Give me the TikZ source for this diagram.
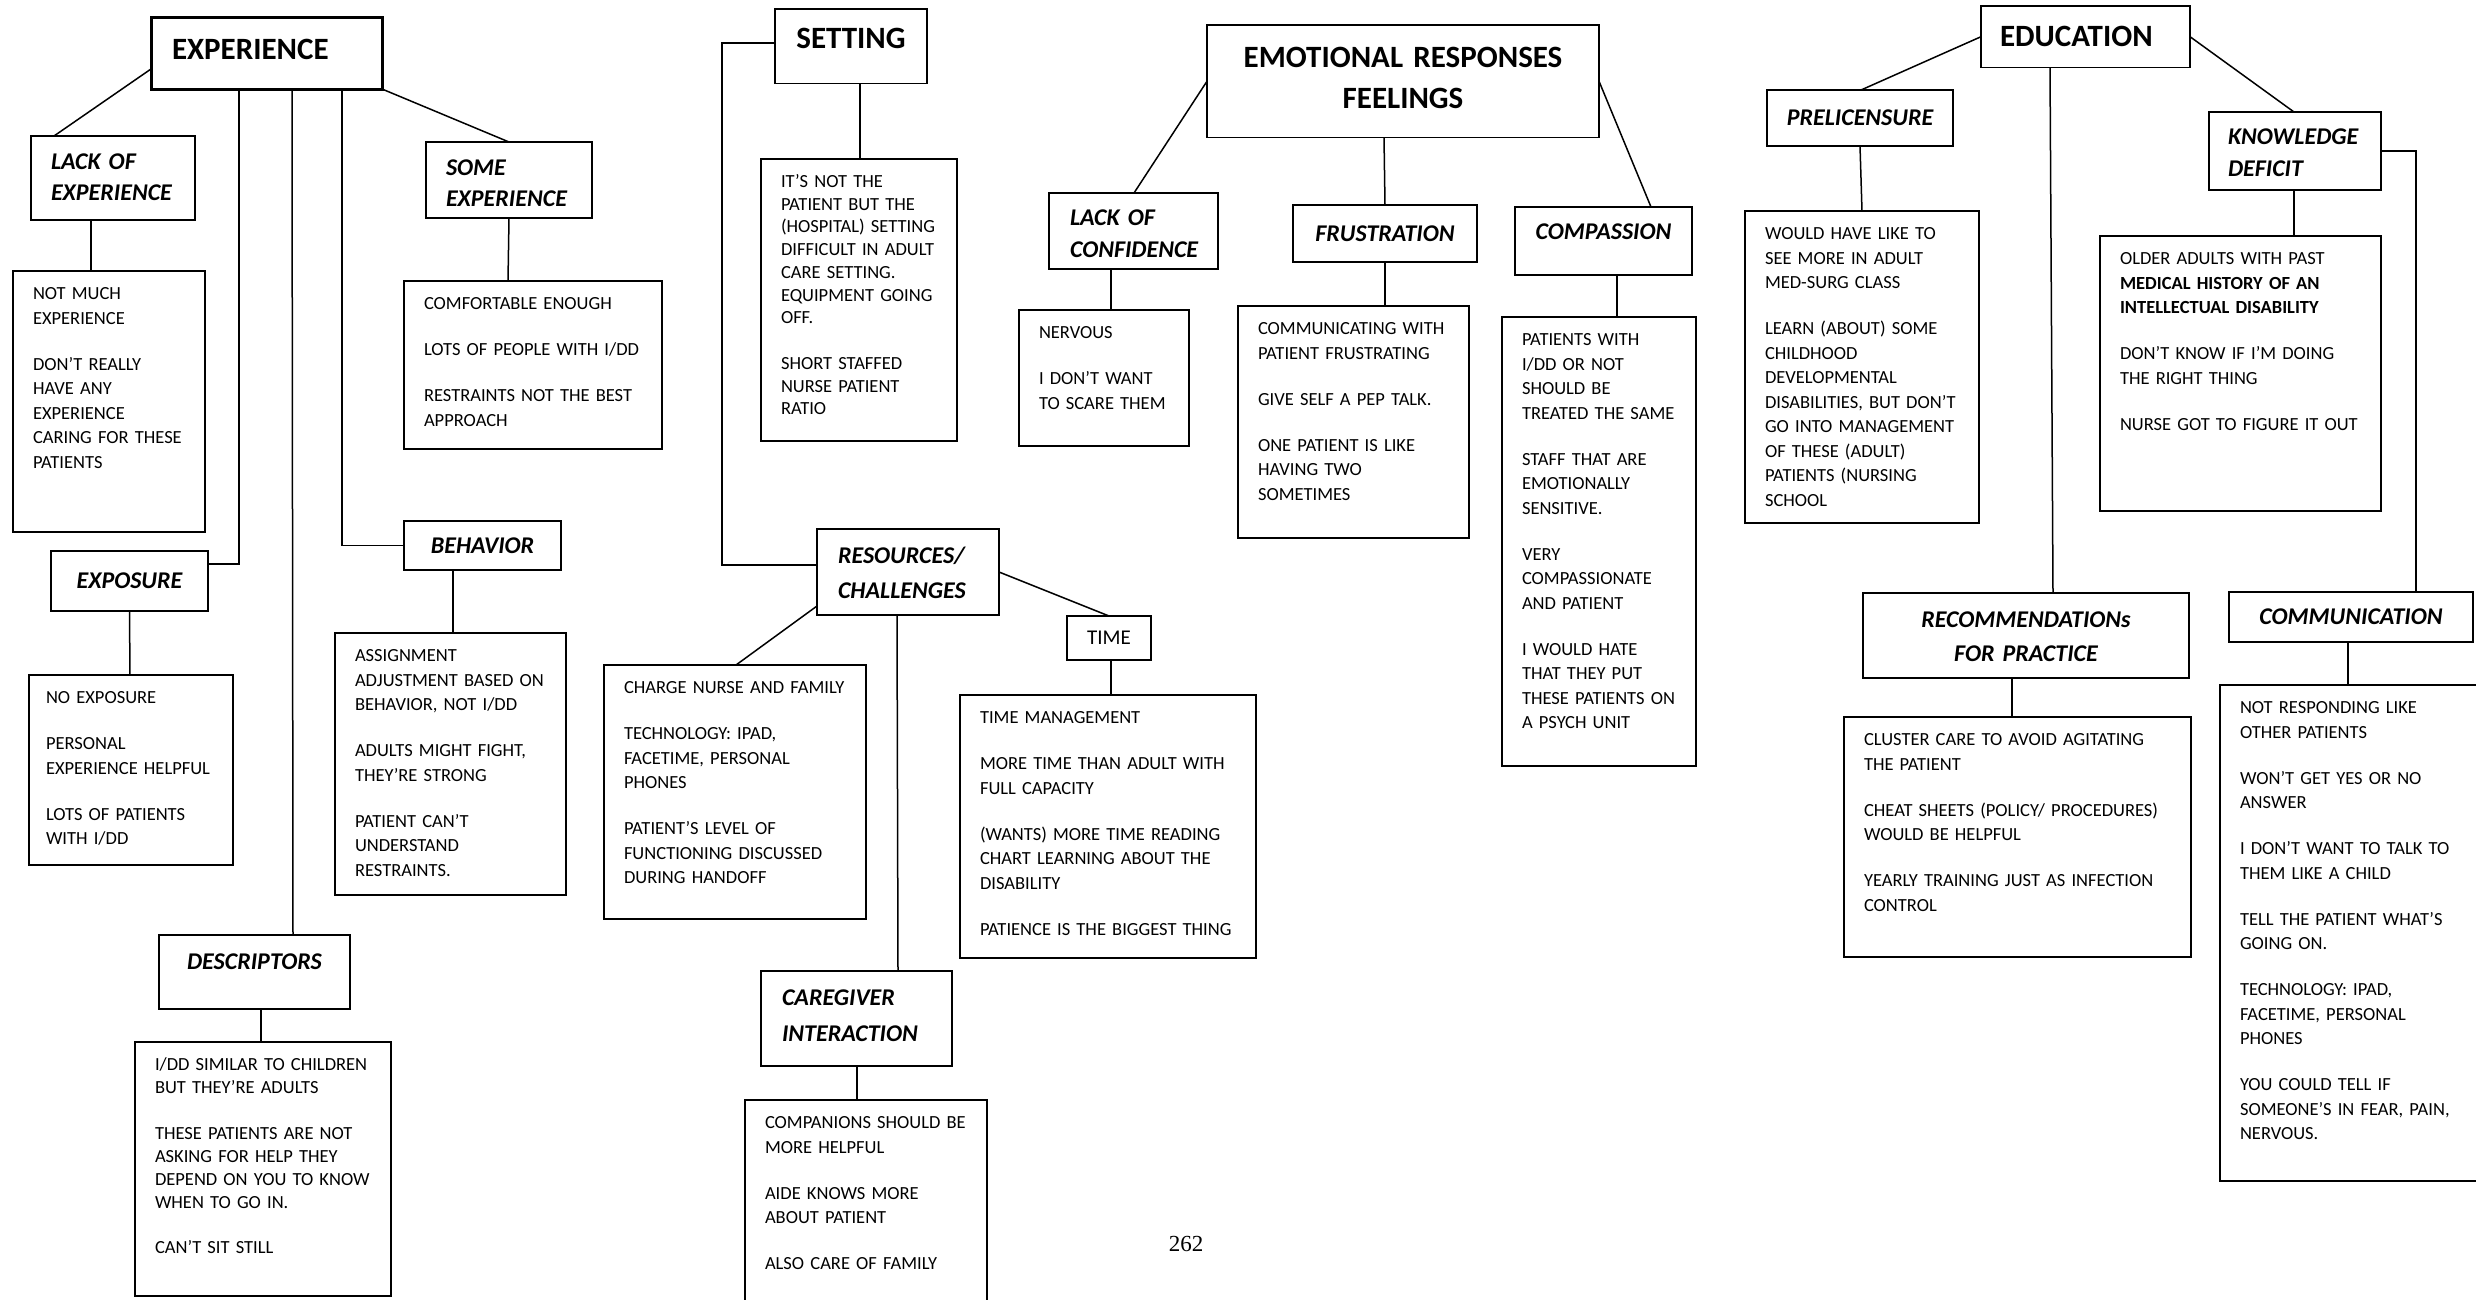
\documentclass[tikz,border=0pt]{standalone}
\usepackage{fontspec}
\setmainfont{Carlito}
\newfontfamily\pagefont{Liberation Serif}
\usetikzlibrary{positioning}
\tikzset{
  note/.style={draw, line width=1.8pt, anchor=north west, outer sep=0pt, align=left,
    inner xsep=20pt, inner ysep=16.5pt, text height=12pt,
    font=\fontsize{18.5}{24.5}\selectfont},
  theme/.style={draw, line width=1.8pt, anchor=north west, outer sep=0pt,
    text height=20pt, font=\bfseries\fontsize{31}{41}\selectfont},
  topic/.style={draw, line width=1.8pt, anchor=north west, outer sep=0pt,
    text height=15.2pt, font=\bfseries\itshape\fontsize{24}{31}\selectfont},
  link/.style={line width=1.5pt},
}

\begin{document}
\begin{tikzpicture}[x=1pt, y=-1pt]
  \path[fill=white, use as bounding box] (0,0) rectangle (2476,1299);

  % experience
  \node[theme, line width=3pt, text width=189pt, inner xsep=21pt, inner ysep=22pt, text depth=8pt, align=left] (experience) at (151,17) {EXPERIENCE};
  \node[topic, text width=124pt, inner xsep=20pt, inner ysep=18.4pt, text depth=32.2pt, align=left] (lackexp) at (31,136) {LACK OF\\EXPERIENCE};
  \node[topic, text width=126pt, inner xsep=20pt, inner ysep=18pt, text depth=25pt, align=left] (someexp) at (426,142) {SOME\\EXPERIENCE};
  \node[topic, minimum width=157pt, minimum height=60pt, text depth=0pt] (exposure) at (51,551) {EXPOSURE};
  \node[topic, minimum width=157pt, minimum height=49pt, text depth=0pt] (behavior) at (404,521) {BEHAVIOR};
  \node[topic, text width=151pt, inner xsep=20pt, inner ysep=19.4pt, text depth=20pt, align=center] (descriptors) at (159,935) {DESCRIPTORS};
  \node[note, text width=152pt, text depth=216pt] (notmuch) at (13,271) {NOT MUCH\\EXPERIENCE\\[21.5pt]DON’T REALLY\\HAVE ANY\\EXPERIENCE\\CARING FOR THESE\\PATIENTS};
  \node[note, text width=218pt, text depth=123pt] (comfortable) at (404,281) {COMFORTABLE ENOUGH\\[21.5pt]LOTS OF PEOPLE WITH I/DD\\[21.5pt]RESTRAINTS NOT THE BEST\\APPROACH};
  \node[note, text width=170pt, inner xsep=17pt, text depth=145pt] (noexposure) at (29,675) {NO EXPOSURE\\[21.5pt]PERSONAL\\EXPERIENCE HELPFUL\\[21.5pt]LOTS OF PATIENTS\\WITH I/DD};
  \node[note, text width=191pt, text depth=217pt] (assignment) at (335,633) {ASSIGNMENT\\ADJUSTMENT BASED ON\\BEHAVIOR, NOT I/DD\\[21.5pt]ADULTS MIGHT FIGHT,\\THEY’RE STRONG\\[21.5pt]PATIENT CAN’T\\UNDERSTAND\\RESTRAINTS.};
  \node[note, text width=216pt, text depth=209pt, font=\fontsize{18.5}{23}\selectfont] (similar) at (135,1042) {I/DD SIMILAR TO CHILDREN\\BUT THEY’RE ADULTS\\[22.5pt]THESE PATIENTS ARE NOT\\ASKING FOR HELP THEY\\DEPEND ON YOU TO KNOW\\WHEN TO GO IN.\\[22.5pt]CAN’T SIT STILL};

  % setting
  \node[theme, text width=112pt, inner xsep=20pt, inner ysep=19.2pt, text depth=16pt, align=center] (setting) at (775,9) {SETTING};
  \node[note, text width=156pt, text depth=237pt, font=\fontsize{18.5}{22.7}\selectfont] (hospital) at (761,159) {IT’S NOT THE\\PATIENT BUT THE\\(HOSPITAL) SETTING\\DIFFICULT IN ADULT\\CARE SETTING.\\EQUIPMENT GOING\\OFF.\\[23pt]SHORT STAFFED\\NURSE PATIENT\\RATIO};
  \node[topic, text width=140pt, inner xsep=21pt, inner ysep=19.4pt, text depth=32pt, align=left] (resources) at (817,529) {RESOURCES/\\[4pt]CHALLENGES};
  \node[note, text width=222pt, text depth=209pt] (chargenurse) at (604,665) {CHARGE NURSE AND FAMILY\\[21.5pt]TECHNOLOGY: IPAD,\\FACETIME, PERSONAL\\PHONES\\[21.5pt]PATIENT’S LEVEL OF\\FUNCTIONING DISCUSSED\\DURING HANDOFF};
  \node[topic, text width=149pt, inner xsep=21pt, inner ysep=19.4pt, text depth=41pt, align=left] (caregiver) at (761,971) {CAREGIVER\\[5pt]INTERACTION};
  \node[note, text width=202pt, text depth=175pt] (companions) at (745,1100) {COMPANIONS SHOULD BE\\MORE HELPFUL\\[21.5pt]AIDE KNOWS MORE\\ABOUT PATIENT\\[21.5pt]ALSO CARE OF FAMILY};
  \node[draw, line width=1.8pt, anchor=north west, outer sep=0pt, minimum width=84pt, minimum height=44pt, text height=13.3pt, text depth=0pt, font=\fontsize{21}{25}\selectfont] (time) at (1067,616) {TIME};
  \node[note, text width=256pt, text depth=218pt] (timemgmt) at (960,695) {TIME MANAGEMENT\\[21.5pt]MORE TIME THAN ADULT WITH\\FULL CAPACITY\\[21.5pt](WANTS) MORE TIME READING\\CHART LEARNING ABOUT THE\\DISABILITY\\[21.5pt]PATIENCE IS THE BIGGEST THING};

  % emotional responses
  \node[theme, text width=352pt, inner xsep=20pt, inner ysep=22.2pt, text depth=48pt, align=center] (emotional) at (1207,25) {EMOTIONAL RESPONSES\\FEELINGS};
  \node[topic, text width=127pt, inner xsep=21pt, inner ysep=17.4pt, text depth=26pt, align=left] (lackconf) at (1049,193) {LACK OF\\[1pt]CONFIDENCE};
  \node[topic, minimum width=184pt, minimum height=57pt, text depth=0pt] (frustration) at (1293,205) {FRUSTRATION};
  \node[topic, text width=137pt, inner xsep=20pt, inner ysep=17.4pt, text depth=18pt, align=center] (compassion) at (1515,207) {COMPASSION};
  \node[note, text width=130pt, text depth=91pt] (nervous) at (1019,310) {NERVOUS\\[21.5pt]I DON’T WANT\\TO SCARE THEM};
  \node[note, text width=191pt, text depth=187pt] (peptalk) at (1238,306) {COMMUNICATING WITH\\PATIENT FRUSTRATING\\[21.5pt]GIVE SELF A PEP TALK.\\[21.5pt]ONE PATIENT IS LIKE\\HAVING TWO\\SOMETIMES};
  \node[note, text width=154pt, text depth=404pt] (treated) at (1502,317) {PATIENTS WITH\\I/DD OR NOT\\SHOULD BE\\TREATED THE SAME\\[21.5pt]STAFF THAT ARE\\EMOTIONALLY\\SENSITIVE.\\[21.5pt]VERY\\COMPASSIONATE\\AND PATIENT\\[21.5pt]I WOULD HATE\\THAT THEY PUT\\THESE PATIENTS ON\\A PSYCH UNIT};

  % education
  \node[theme, text width=171pt, inner xsep=19pt, inner ysep=20pt, text depth=1.4pt, align=left] (education) at (1981,6) {EDUCATION};
  \node[topic, minimum width=186pt, minimum height=56pt, text depth=0pt] (prelicensure) at (1767,90) {PRELICENSURE};
  \node[topic, text width=134pt, inner xsep=19pt, inner ysep=17.4pt, text depth=28pt, align=left] (knowledge) at (2209,112) {KNOWLEDGE\\[1pt]DEFICIT};
  \node[topic, text width=286pt, inner xsep=20pt, inner ysep=19.4pt, text depth=31pt, align=center] (recommend) at (1863,593) {RECOMMENDATIONs\\[3pt]FOR PRACTICE};
  \node[topic, minimum width=244pt, minimum height=50pt, text depth=0pt] (communication) at (2229,592) {COMMUNICATION};
  \node[note, text width=194pt, text depth=267pt] (medsurg) at (1745,211) {WOULD HAVE LIKE TO\\SEE MORE IN ADULT\\MED-SURG CLASS\\[21.5pt]LEARN (ABOUT) SOME\\CHILDHOOD\\DEVELOPMENTAL\\DISABILITIES, BUT DON’T\\GO INTO MANAGEMENT\\OF THESE (ADULT)\\PATIENTS (NURSING\\SCHOOL};
  \node[note, text width=241pt, text depth=230pt] (olderadults) at (2100,236) {OLDER ADULTS WITH PAST\\\textbf{MEDICAL HISTORY OF AN}\\\textbf{INTELLECTUAL DISABILITY}\\[21.5pt]DON’T KNOW IF I’M DOING\\THE RIGHT THING\\[21.5pt]NURSE GOT TO FIGURE IT OUT};
  \node[note, text width=307pt, text depth=195pt] (cluster) at (1844,717) {CLUSTER CARE TO AVOID AGITATING\\THE PATIENT\\[21.5pt]CHEAT SHEETS (POLICY/ PROCEDURES)\\WOULD BE HELPFUL\\[21.5pt]YEARLY TRAINING JUST AS INFECTION\\CONTROL};
  \node[note, text width=222pt, text depth=451pt] (responding) at (2220,685) {NOT RESPONDING LIKE\\OTHER PATIENTS\\[21.5pt]WON’T GET YES OR NO\\ANSWER\\[21.5pt]I DON’T WANT TO TALK TO\\THEM LIKE A CHILD\\[21.5pt]TELL THE PATIENT WHAT’S\\GOING ON.\\[21.5pt]TECHNOLOGY: IPAD,\\FACETIME, PERSONAL\\PHONES\\[21.5pt]YOU COULD TELL IF\\SOMEONE’S IN FEAR, PAIN,\\NERVOUS.};

  \node[font=\pagefont\fontsize{23}{23}\selectfont] (pagenum) at (1186,1244) {262};

  % connectors
  \draw[link] ([yshift=-16pt]experience.west) -- ([xshift=23pt]lackexp.north west);
  \draw[link] (experience.south east) -- (someexp.north);
  \draw[link] ([xshift=60pt]lackexp.south west) -- ([xshift=78pt]notmuch.north west);
  \draw[link] (someexp.south) -- ([xshift=104pt]comfortable.north west);
  \draw[link] ([xshift=88pt]experience.south west) |- ([yshift=17pt]exposure.east);
  \draw[link] ([xshift=141pt]experience.south west) -- ([xshift=134pt]descriptors.north west);
  \draw[link] ([xshift=191pt]experience.south west) |- (behavior.west);
  \draw[link] (exposure.south) -- ([xshift=101pt]noexposure.north west);
  \draw[link, line width=2.5pt] ([xshift=49pt]behavior.south west) -- ([xshift=118pt]assignment.north west);
  \draw[link, line width=2.5pt] ([xshift=102pt]descriptors.south west) -- ([xshift=126pt]similar.north west);

  \draw[link] ([yshift=3pt]setting.west) -- ++(-53,0) |- ([yshift=7pt]resources.west);
  \draw[link] ([xshift=85pt]setting.south west) -- ([xshift=99pt]hospital.north west);
  \draw[link] ([yshift=9pt]resources.south west) -- ([xshift=132pt]chargenurse.north west);
  \draw[link] ([xshift=80pt]resources.south west) -- ([xshift=137pt]caregiver.north west);
  \draw[link] (resources.east) -- (time.north);
  \draw[link] ([xshift=2pt]time.south) -- ([xshift=151pt]timemgmt.north west);
  \draw[link] ([xshift=96pt]caregiver.south west) -- ([xshift=112pt]companions.north west);

  \draw[link] (emotional.west) -- ([xshift=85pt]lackconf.north west);
  \draw[link] ([xshift=177pt]emotional.south west) -- ([xshift=92pt]frustration.north west);
  \draw[link] (emotional.east) -- ([xshift=136pt]compassion.north west);
  \draw[link] ([xshift=62pt]lackconf.south west) -- ([xshift=92pt]nervous.north west);
  \draw[link] ([xshift=92pt]frustration.south west) -- ([xshift=147pt]peptalk.north west);
  \draw[link] ([xshift=102pt]compassion.south west) -- ([xshift=115pt]treated.north west);

  \draw[link] (education.west) -- ([xshift=94pt]prelicensure.north west);
  \draw[link] ([xshift=93pt]prelicensure.south west) -- ([xshift=117pt]medsurg.north west);
  \draw[link] ([xshift=69pt]education.south west) -- ([xshift=190pt]recommend.north west);
  \draw[link] (education.east) -- ([xshift=85pt]knowledge.north west);
  \draw[link] ([xshift=85pt]knowledge.south west) -- ([xshift=194pt]olderadults.north west);
  \draw[link] (knowledge.east) -| ([xshift=187pt]communication.north west);
  \draw[link] ([xshift=149pt]recommend.south west) -- ([xshift=168pt]cluster.north west);
  \draw[link] ([xshift=119pt]communication.south west) -- ([xshift=128pt]responding.north west);
\end{tikzpicture}
\end{document}
